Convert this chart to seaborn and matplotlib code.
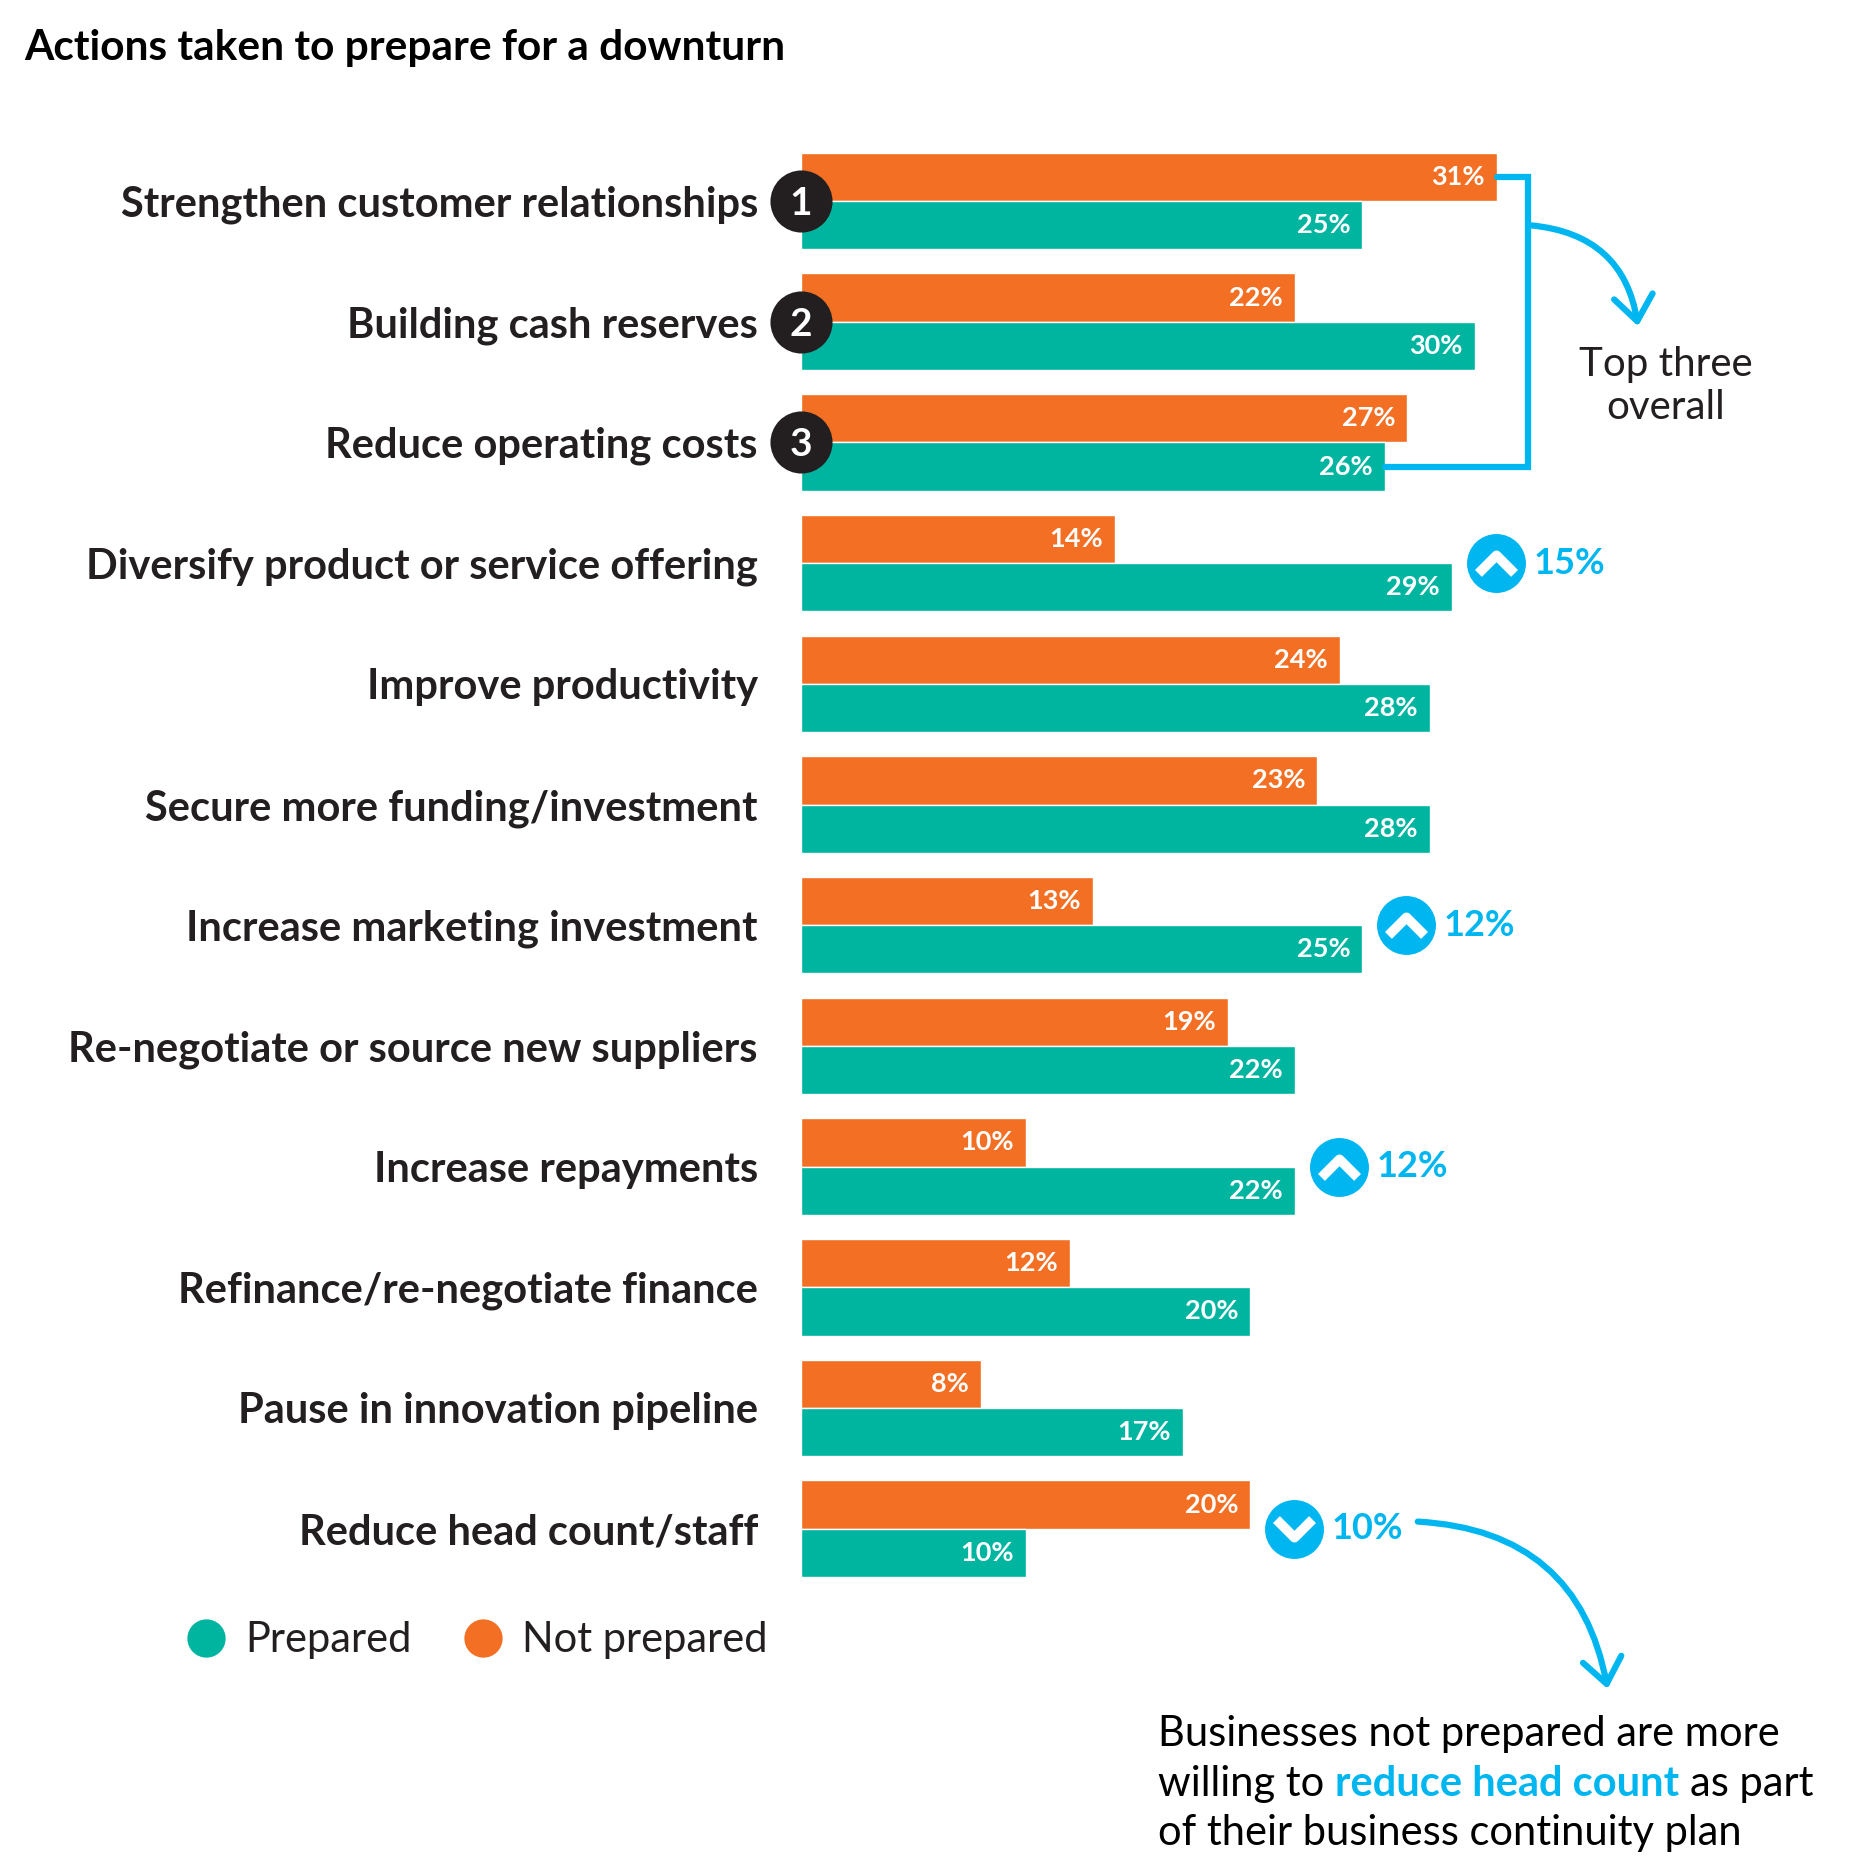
import matplotlib
matplotlib.use("Agg")
import matplotlib.pyplot as plt
import seaborn as sns
import pandas as pd
import numpy as np
from matplotlib.patches import FancyArrowPatch
from matplotlib.path import Path
from matplotlib.markers import MarkerStyle

# ---------------- data ----------------
categories = [
    "Strengthen customer relationships",
    "Building cash reserves",
    "Reduce operating costs",
    "Diversify product or service offering",
    "Improve productivity",
    "Secure more funding/investment",
    "Increase marketing investment",
    "Re-negotiate or source new suppliers",
    "Increase repayments",
    "Refinance/re-negotiate finance",
    "Pause in innovation pipeline",
    "Reduce head count/staff",
]
not_prepared = [31, 22, 27, 14, 24, 23, 13, 19, 10, 12, 8, 20]
prepared = [25, 30, 26, 29, 28, 28, 25, 22, 22, 20, 17, 10]
series_names = ["Not prepared", "Prepared"]
rank_labels = ["1", "2", "3"]
callout_rows = [3, 6, 8, 11]
callout_text = ["15%", "12%", "12%", "10%"]
callout_dir = ["up", "up", "up", "down"]
title = "Actions taken to prepare for a downturn"
top_three_note = "Top three\noverall"
note_lines = ["Businesses not prepared are more", "willing to", "reduce head count", "as part",
              "of their business continuity plan"]
legend_labels = ["Prepared", "Not prepared"]

ORANGE = "#F26F24"
TEAL = "#00B5A0"
BLUE = "#00B6F0"
DARK = "#231F20"
HEAVY = "bold"

sns.set_theme(style="white")
plt.rcParams["font.family"] = ["Lato", "DejaVu Sans"]

W, H = 1866, 1873
fig = plt.figure(figsize=(W / 100, H / 100), dpi=100)

# bar axes in pixel layout
x0_px, px_per_unit = 801, 22.45
xmax = 40
row0_px, pitch_px = 201, 120.7
top_px = row0_px - 0.5 * pitch_px
bot_px = row0_px + 11.5 * pitch_px
ax = fig.add_axes([x0_px / W, 1 - bot_px / H, xmax * px_per_unit / W, (bot_px - top_px) / H])

df = pd.DataFrame({
    "category": categories * 2,
    "value": not_prepared + prepared,
    "group": [series_names[0]] * len(categories) + [series_names[1]] * len(categories),
})
sns.barplot(data=df, y="category", x="value", hue="group", hue_order=series_names,
            palette=[ORANGE, TEAL], orient="h", width=0.8, gap=0, saturation=1,
            legend=False, ax=ax, errorbar=None)
ax.set_xlim(0, xmax)
ax.set_ylim(11.5, -0.5)
for s in ax.spines.values():
    s.set_visible(False)
ax.set_xticks([])
ax.set_xlabel("")
ax.set_ylabel("")
ax.tick_params(axis="y", length=0, pad=31)
for lab in ax.get_yticklabels():
    lab.set_fontsize(30)
    lab.set_fontweight(HEAVY)
    lab.set_color(DARK)

# value labels inside bars
for cont in ax.containers:
    for p in cont.patches:
        v = p.get_width()
        yc = p.get_y() + p.get_height() / 2
        ax.annotate(f"{int(round(v))}%", xy=(v, yc), xytext=(-12, 0), textcoords="offset pixels",
                    ha="right", va="center", color="white", fontsize=19.5, fontweight=HEAVY)

orange_bars = list(ax.containers[0].patches)
green_bars = list(ax.containers[1].patches)

# rank circles
for i, r in enumerate(rank_labels):
    ax.scatter([0], [i], s=2000, color=DARK, zorder=6, clip_on=False, linewidths=0)
    ax.text(0, i + 0.02, r, ha="center", va="center", color="white", fontsize=28,
            fontweight=HEAVY, zorder=7)

# bracket around top three
ob0 = orange_bars[0]
gb2 = green_bars[2]
y_top = ob0.get_y() + ob0.get_height() / 2
y_bot = gb2.get_y() + gb2.get_height() / 2
xb = not_prepared[0] + 1.4
ax.plot([ob0.get_width(), xb, xb, gb2.get_width()], [y_top, y_top, y_bot, y_bot],
        color=BLUE, lw=4.5, solid_joinstyle="miter", clip_on=False, zorder=3)
arr = FancyArrowPatch((xb, 0.2), (37.3, 1.06), connectionstyle="arc3,rad=-0.4",
                      arrowstyle="->,head_length=0.45,head_width=0.35", mutation_scale=40,
                      color=BLUE, lw=4.5, clip_on=False, zorder=3)
ax.add_patch(arr)
ax.text(38.5, 1.53, top_three_note, ha="center", va="center", fontsize=29, color=DARK,
        linespacing=1.2, clip_on=False)

# callouts
up_path = Path([(-1, -0.55), (0, 0.45), (1, -0.55)], [Path.MOVETO, Path.LINETO, Path.LINETO])
down_path = Path([(-1, 0.55), (0, -0.45), (1, 0.55)], [Path.MOVETO, Path.LINETO, Path.LINETO])
for row, txt, d in zip(callout_rows, callout_text, callout_dir):
    xc = max(not_prepared[row], prepared[row]) + 1.95
    ax.scatter([xc], [row], s=1800, color=BLUE, zorder=6, clip_on=False, linewidths=0)
    mk = MarkerStyle(up_path if d == "up" else down_path, joinstyle="miter")
    ax.plot([xc], [row], marker=mk, markersize=26, markerfacecolor="none",
            markeredgecolor="white", markeredgewidth=7, zorder=7, clip_on=False)
    ax.annotate(txt, xy=(xc, row), xytext=(38, 0), textcoords="offset pixels",
                ha="left", va="center", color=BLUE, fontsize=26, fontweight=HEAVY)

# bottom arrow
arr2 = FancyArrowPatch((27.35, 10.94), (35.95, 12.35), connectionstyle="arc3,rad=-0.4",
                       arrowstyle="->,head_length=0.45,head_width=0.35", mutation_scale=40,
                       color=BLUE, lw=4.5, clip_on=False, zorder=3, capstyle="round")
ax.add_patch(arr2)

# overlay axes for title, legend, note
ov = fig.add_axes([0, 0, 1, 1], zorder=-1)
ov.set_xlim(0, W)
ov.set_ylim(H, 0)
ov.axis("off")

ov.text(24, 48, title, ha="left", va="center", fontsize=30.5, fontweight=HEAVY, color="black")

# legend
ov.scatter([206], [1638], s=760, color=TEAL, linewidths=0)
ov.text(245, 1640, legend_labels[0], ha="left", va="center", fontsize=30, color=DARK)
ov.scatter([483], [1638], s=760, color=ORANGE, linewidths=0)
ov.text(522, 1640, legend_labels[1], ha="left", va="center", fontsize=30, color=DARK)

# note
NS = 30
ov.text(1158, 1734, note_lines[0], ha="left", va="center", fontsize=NS, color="black")
t1 = ov.text(1158, 1784, note_lines[1], ha="left", va="center", fontsize=NS, color="black")
t2 = ov.annotate(note_lines[2], xy=(1, 0), xycoords=t1, xytext=(11, 0), textcoords="offset pixels",
                 ha="left", va="bottom", fontsize=NS, fontweight=HEAVY, color=BLUE)
ov.annotate(note_lines[3], xy=(1, 0), xycoords=t2, xytext=(11, 0), textcoords="offset pixels",
            ha="left", va="bottom", fontsize=NS, color="black")
ov.text(1158, 1833, note_lines[4], ha="left", va="center", fontsize=NS, color="black")

fig.savefig("out.png", dpi=100)
